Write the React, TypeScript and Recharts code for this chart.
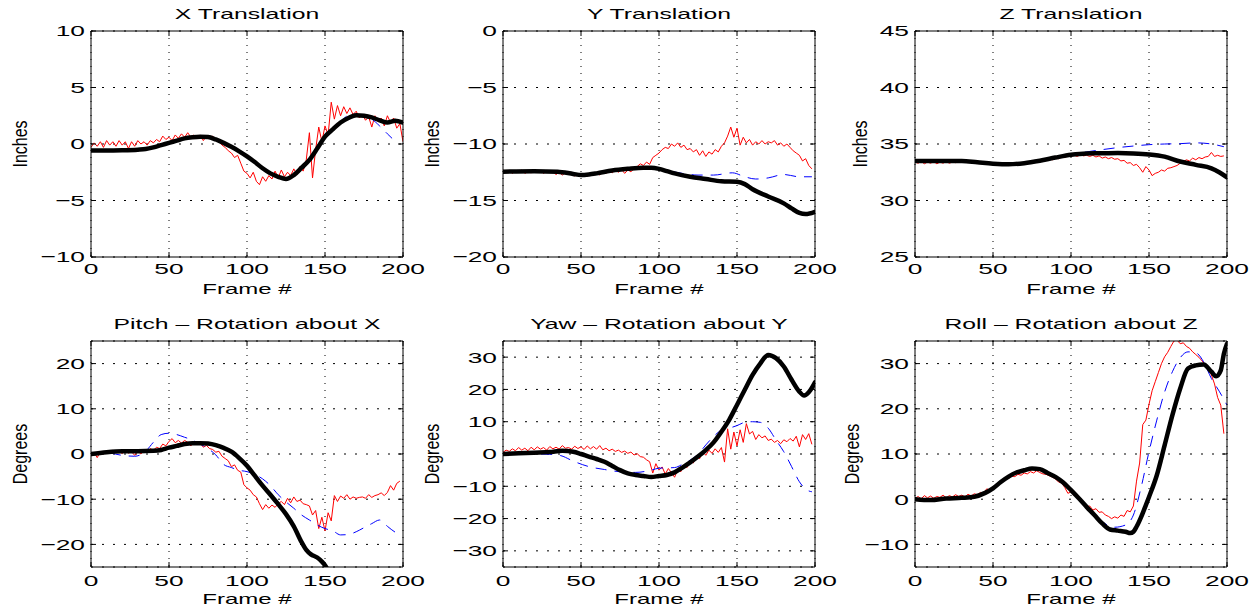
import { LineChart, Line, XAxis, YAxis, CartesianGrid } from "recharts"

type Pt = [number, number]

const FONT = "'Liberation Sans', Arial, Helvetica, sans-serif"
const frameTicks = [0, 50, 100, 150, 200]

// red = raw measurement, read every 2nd frame starting at frame 0
const xRed = [
  -0.3, 0.1, -0.2, 0.2, -0.3, 0.3, -0.1, 0.2, -0.2, 0.3,
  -0.1, 0.2, -0.4, 0.2, -0.2, 0.3, 0.0, 0.2, -0.1, 0.3,
  0.1, 0.4, 0.2, 0.7, 0.4, 0.6, 0.3, 0.8, 0.5, 0.9,
  0.6, 1.0, 0.6, 0.8, 0.5, 0.8, 0.3, 0.7, 0.5, 0.7,
  0.3, 0.2, -0.1, -0.3, -0.6, -0.8, -1.2, -1.0, -1.7, -2.4,
  -2.6, -3.0, -2.5, -3.3, -3.6, -2.9, -3.3, -2.8, -3.1, -2.4,
  -3.0, -2.3, -2.9, -2.5, -2.8, -2.2, -2.7, -2.0, -2.4, -1.4,
  1.0, -3.0, -0.5, 1.5, 0.2, 1.6, 0.8, 3.7, 2.2, 3.4,
  2.5, 3.3, 2.7, 3.2, 2.6, 2.9, 2.3, 2.6, 2.1, 2.4,
  1.5, 2.5, 2.0, 2.3, 1.6, 2.5, 1.9, 2.3, 1.4, 1.8, 0.2,
]
const xBlue: Pt[] = [
  [0, -0.58], [20, -0.55], [40, -0.3], [50, 0.1], [60, 0.5], [70, 0.65], [80, 0.4], [90, -0.25],
  [100, -1.1], [110, -2.15], [120, -2.9], [125, -3.1], [130, -2.75], [140, -1.4], [150, 0.65],
  [160, 2.0], [167, 2.65], [175, 2.5], [180, 2.2], [185, 1.6], [190, 0.9], [193, 0.5],
]
const xBlack: Pt[] = [
  [0, -0.58], [10, -0.57], [20, -0.55], [30, -0.5], [35, -0.45], [40, -0.3], [45, -0.1], [50, 0.1],
  [55, 0.3], [60, 0.5], [65, 0.6], [70, 0.65], [75, 0.62], [80, 0.4], [85, 0.1], [90, -0.25],
  [95, -0.65], [100, -1.1], [105, -1.6], [110, -2.15], [115, -2.6], [120, -2.9], [125, -3.1],
  [130, -2.75], [135, -2.1], [140, -1.4], [145, -0.4], [150, 0.65], [155, 1.3], [160, 1.9],
  [165, 2.3], [170, 2.55], [175, 2.5], [180, 2.35], [185, 2.1], [190, 1.9], [195, 2.05], [200, 1.9],
]

const yRed = [
  -12.3, -12.5, -12.35, -12.6, -12.4, -12.5, -12.3, -12.6, -12.45, -12.55,
  -12.4, -12.5, -12.35, -12.6, -12.4, -12.5, -12.45, -12.7, -12.5, -12.75,
  -12.55, -12.7, -12.5, -12.85, -12.6, -12.9, -12.7, -12.85, -12.6, -12.8,
  -12.5, -12.75, -12.4, -12.6, -12.35, -12.55, -12.3, -12.5, -12.25, -12.6,
  -12.3, -12.45, -12.2, -12.0, -11.75, -11.9, -11.6, -11.8, -11.2, -11.0,
  -10.8, -10.5, -10.3, -10.4, -10.0, -10.2, -9.9, -10.3, -10.1, -10.5,
  -10.4, -10.7, -10.5, -11.0, -10.6, -11.1, -10.7, -10.9, -10.5, -10.7,
  -10.2, -9.9, -9.3, -8.5, -9.4, -8.6, -10.1, -9.4, -9.9, -9.6,
  -10.1, -9.8, -10.0, -9.7, -10.0, -9.8, -9.9, -9.7, -10.1, -9.9,
  -10.2, -10.0, -10.3, -10.6, -10.8, -11.0, -11.5, -11.3, -11.9, -12.2,
]
const yBlue: Pt[] = [
  [0, -12.45], [35, -12.45], [50, -12.75], [60, -12.6], [80, -12.2], [95, -12.1], [105, -12.35],
  [115, -12.6], [125, -12.75], [135, -12.75], [147, -12.55], [155, -12.9], [162, -13.1],
  [170, -13.0], [180, -12.7], [190, -12.9], [198, -12.9],
]
const yBlack: Pt[] = [
  [0, -12.45], [20, -12.42], [35, -12.45], [45, -12.65], [50, -12.75], [55, -12.7], [60, -12.6],
  [70, -12.35], [80, -12.2], [90, -12.1], [95, -12.1], [100, -12.2], [105, -12.4], [110, -12.6],
  [120, -12.9], [130, -13.1], [140, -13.3], [150, -13.35], [155, -13.55], [160, -14.0],
  [170, -14.65], [180, -15.25], [185, -15.7], [190, -16.1], [194, -16.2], [200, -16.0],
]

const zRed = [
  33.4, 33.3, 33.45, 33.25, 33.4, 33.3, 33.45, 33.25, 33.4, 33.3,
  33.45, 33.3, 33.4, 33.35, 33.45, 33.4, 33.5, 33.4, 33.45, 33.35,
  33.4, 33.3, 33.35, 33.25, 33.3, 33.2, 33.25, 33.15, 33.25, 33.15,
  33.2, 33.25, 33.2, 33.3, 33.25, 33.35, 33.3, 33.4, 33.35, 33.5,
  33.45, 33.6, 33.55, 33.7, 33.6, 33.75, 33.7, 33.85, 33.8, 33.95,
  33.9, 34.0, 33.9, 34.05, 33.95, 34.0, 33.9, 34.0, 33.85, 33.95,
  33.75, 33.85, 33.7, 33.8, 33.65, 33.7, 33.5, 33.55, 33.3, 33.35,
  33.1, 33.2, 32.9, 32.5, 33.0, 32.7, 32.2, 32.4, 32.5, 32.7,
  32.6, 32.85, 32.9, 33.0, 33.1, 33.3, 33.45, 33.6, 33.5, 33.75,
  33.6, 33.8, 33.7, 33.85, 33.9, 34.25, 33.9, 34.0, 33.9, 33.95,
]
const zBlue: Pt[] = [
  [0, 33.5], [30, 33.5], [50, 33.26], [60, 33.2], [80, 33.52], [100, 34.05], [110, 34.3],
  [120, 34.5], [130, 34.68], [140, 34.82], [150, 34.94], [160, 35.0], [170, 35.03], [180, 35.1],
  [190, 35.0], [198, 34.76],
]
const zBlack: Pt[] = [
  [0, 33.5], [30, 33.5], [40, 33.38], [50, 33.26], [60, 33.2], [70, 33.3], [80, 33.52], [90, 33.8],
  [100, 34.05], [110, 34.17], [120, 34.18], [130, 34.2], [140, 34.17], [150, 34.08], [160, 33.88],
  [170, 33.45], [180, 33.15], [190, 32.85], [195, 32.5], [200, 32.05],
]

const pitchRed = [
  -0.5, 0.3, -0.8, 0.5, 0.0, 0.7, 0.2, 0.8, 0.3, 0.6,
  0.1, 0.7, 0.2, 0.5, -0.3, 0.6, 0.0, 0.9, 0.5, 1.2,
  0.8, 1.5, 1.2, 2.2, 1.8, 2.8, 3.4, 2.5, 3.0, 2.4,
  3.0, 2.6, 1.8, 2.5, 2.1, 2.4, 1.5, 1.9, 1.2, 1.0,
  0.4, 0.6, -0.5, -1.0, -1.5, -2.8, -2.4, -3.6, -4.0, -6.8,
  -7.5, -8.0, -9.0, -9.5, -11.0, -12.3, -11.2, -12.0, -11.3, -11.8,
  -11.0, -10.5, -11.2, -9.8, -10.8, -9.5, -10.5, -10.2, -11.0, -11.2,
  -11.5, -13.5, -12.5, -16.5, -14.0, -17.0, -13.0, -14.8, -9.2, -10.5,
  -9.3, -9.8, -9.0, -10.0, -9.5, -9.8, -9.6, -9.5, -9.8, -9.0,
  -9.6, -9.2, -9.0, -8.6, -9.2, -8.5, -7.0, -8.0, -6.5, -6.0,
]
const pitchBlue: Pt[] = [
  [0, 0], [10, 0.3], [20, -0.3], [28, -0.5], [35, 0.6], [40, 2.6], [45, 4.3], [50, 4.6], [55, 4.3],
  [60, 3.7], [65, 3.1], [70, 2.2], [75, 1.2], [80, -0.2], [85, -2.3], [90, -3.0], [95, -3.6],
  [100, -3.9], [105, -4.5], [110, -5.5], [115, -7.0], [120, -9.0], [125, -10.6], [130, -12.0],
  [135, -13.5], [140, -14.6], [145, -15.7], [150, -16.5], [155, -17.0], [160, -17.9], [165, -17.8],
  [170, -17.2], [175, -16.3], [180, -15.4], [185, -14.6], [190, -16.0], [195, -17.3], [198, -17.8],
]
const pitchBlack: Pt[] = [
  [0, 0], [10, 0.4], [20, 0.6], [30, 0.6], [40, 0.7], [45, 0.9], [50, 1.4], [55, 1.8], [60, 2.2],
  [65, 2.4], [70, 2.4], [75, 2.3], [80, 1.95], [85, 1.35], [90, 0.5], [95, -0.9], [100, -2.6],
  [105, -4.8], [110, -7.0], [115, -9.0], [120, -11.1], [125, -13.3], [130, -16.0], [135, -19.5],
  [138, -21.2], [141, -22.2], [145, -22.9], [148, -23.8], [150, -24.6], [153, -26.5],
]

const yawRed = [
  0.5, 1.2, 0.8, 1.6, 1.0, 2.0, 1.2, 1.8, 1.0, 2.1,
  1.3, 2.2, 1.5, 2.0, 1.2, 2.3, 1.6, 2.1, 1.5, 2.6,
  1.8, 2.0, 1.5, 2.4, 1.7, 2.2, 1.4, 2.5, 1.6, 2.3,
  1.5, 2.6, 1.3, 1.8, 1.0, 1.5, 0.8, 1.2, 0.5, 0.9,
  0.2, 0.6, -0.3, 0.1, -0.8, -1.0, -1.8, -2.4, -5.9, -3.0,
  -5.0, -4.0, -6.2, -4.5, -5.8, -7.2, -4.8, -5.5, -3.5, -4.2,
  -2.2, -2.8, -0.5, -1.5, 0.8, -0.4, 1.2, 0.2, 1.6, 0.5,
  2.0, -2.5, 7.8, 1.5, 6.8, 2.5, 7.5, 3.6, 9.4, 6.2,
  7.0, 4.5, 6.0, 5.0, 5.6, 4.2, 4.6, 3.6, 4.2, 3.2,
  4.4, 3.8, 4.8, 4.0, 5.5, 2.2, 6.0, 4.5, 6.3, 3.0,
]
const yawBlue: Pt[] = [
  [0, 0], [20, 0], [30, -0.1], [37, -0.5], [45, -2.2], [55, -3.9], [65, -4.8], [75, -5.5],
  [85, -5.7], [95, -5.0], [100, -4.4], [110, -4.2], [115, -3.2], [120, -1.9], [125, -0.1],
  [130, 2.8], [135, 5.4], [140, 7.4], [145, 8.0], [150, 8.8], [155, 9.8], [160, 10.0], [165, 9.8],
  [170, 8.0], [175, 4.3], [180, 0.7], [185, -3.9], [190, -8.6], [195, -11.2], [198, -11.7],
]
const yawBlack: Pt[] = [
  [0, 0], [10, 0.2], [20, 0.4], [30, 0.6], [38, 1.0], [45, 0.7], [50, 0.0], [55, -0.8], [60, -1.55],
  [65, -2.4], [70, -3.7], [75, -5.0], [80, -6.0], [85, -6.5], [90, -6.8], [95, -7.1], [100, -6.8],
  [105, -6.5], [110, -5.7], [115, -4.2], [120, -2.6], [125, -0.8], [130, 1.2], [135, 3.6],
  [140, 6.9], [145, 10.6], [150, 15.2], [155, 19.9], [160, 24.5], [165, 28.1], [170, 30.7],
  [175, 29.7], [180, 27.1], [185, 23.0], [190, 19.3], [193, 18.1], [196, 19.1], [200, 22.2],
]

const rollRed = [
  0.2, 0.6, 0.1, 0.8, 0.3, 0.7, 0.2, 0.6, 0.4, 0.9,
  0.3, 0.8, 0.5, 1.0, 0.6, 0.9, 0.5, 1.1, 0.7, 1.2,
  1.0, 1.5, 1.4, 2.3, 2.0, 2.4, 3.0, 3.4, 3.9, 4.5,
  4.6, 5.1, 5.0, 5.5, 5.3, 5.8, 5.6, 6.1, 5.8, 6.3,
  5.9, 5.6, 5.5, 5.2, 4.9, 4.5, 3.8, 3.6, 2.6, 1.3,
  1.6, 0.8, 1.0, -0.6, -1.1, -1.7, -1.5, -2.4, -2.1, -2.9,
  -2.8, -3.5, -3.8, -4.3, -3.9, -4.2, -3.5, -3.8, -2.5, -2.8,
  -1.5, 4.0, 8.0, 16.5, 17.5, 21.0, 24.0, 26.0, 28.0, 30.0,
  31.5, 32.5, 33.8, 35.0, 35.2, 34.4, 34.6, 33.8, 33.4, 32.6,
  32.0, 31.4, 30.6, 29.8, 28.8, 27.5, 25.5, 22.5, 20.8, 14.5,
]
const rollBlue: Pt[] = [
  [0, 0], [30, 0.3], [50, 2.4], [60, 5.0], [75, 6.8], [90, 4.95], [100, 2.0], [110, -1.7],
  [120, -5.0], [128, -6.2], [135, -5.7], [140, -3.5], [145, 2.7], [150, 10.5], [155, 17.5],
  [160, 23.7], [165, 28.2], [170, 31.3], [175, 32.6], [180, 32.4], [185, 30.4], [190, 26.7],
  [195, 23.9], [200, 20.8],
]
const rollBlack: Pt[] = [
  [0, 0], [10, -0.2], [20, 0.15], [30, 0.3], [38, 0.55], [45, 1.4], [50, 2.4], [55, 3.8], [60, 5.0],
  [65, 5.9], [70, 6.4], [75, 6.8], [80, 6.65], [85, 5.8], [90, 4.95], [95, 3.7], [100, 2.0],
  [105, 0.2], [110, -1.7], [115, -3.5], [120, -5.35], [125, -6.7], [130, -6.95], [135, -7.2],
  [138, -7.5], [140, -7.2], [142, -6.1], [145, -3.9], [148, -1.3], [150, 0.5], [155, 5.3],
  [160, 11.9], [165, 18.6], [170, 24.5], [175, 28.9], [180, 29.6], [185, 29.8], [190, 28.2],
  [193, 27.2], [196, 28.5], [198, 32.2], [200, 34.4],
]

const everyTwo = (vals: number[]) => vals.map((y, i) => ({ x: i * 2, y }))
const pairs = (p: Pt[]) => p.map(([x, y]) => ({ x, y }))
const fmt = (v: number) => (v < 0 ? "\u2212" + Math.abs(v) : String(v))

interface Spec {
  x0: number; x1: number; y0: number; y1: number
  title: string; ylabel: string; ylabelX: number; tickDy: number
  domain: [number, number]; ticks: number[]
  red: number[]; blue: Pt[]; black: Pt[]
}

const panels: Spec[] = [
  { x0: 91, x1: 403, y0: 31, y1: 257, title: "X Translation", ylabel: "Inches", ylabelX: 20, tickDy: 12,
    domain: [-10, 10], ticks: [-10, -5, 0, 5, 10], red: xRed, blue: xBlue, black: xBlack },
  { x0: 503, x1: 815, y0: 31, y1: 257, title: "Y Translation", ylabel: "Inches", ylabelX: 432, tickDy: 12,
    domain: [-20, 0], ticks: [-20, -15, -10, -5, 0], red: yRed, blue: yBlue, black: yBlack },
  { x0: 915, x1: 1227, y0: 31, y1: 257, title: "Z Translation", ylabel: "Inches", ylabelX: 860, tickDy: 12,
    domain: [25, 45], ticks: [25, 30, 35, 40, 45], red: zRed, blue: zBlue, black: zBlack },
  { x0: 91, x1: 403, y0: 341, y1: 567, title: "Pitch \u2013 Rotation about X", ylabel: "Degrees", ylabelX: 20, tickDy: 14,
    domain: [-25, 25], ticks: [-20, -10, 0, 10, 20], red: pitchRed, blue: pitchBlue, black: pitchBlack },
  { x0: 503, x1: 815, y0: 341, y1: 567, title: "Yaw \u2013 Rotation about Y", ylabel: "Degrees", ylabelX: 432, tickDy: 14,
    domain: [-35, 35], ticks: [-30, -20, -10, 0, 10, 20, 30], red: yawRed, blue: yawBlue, black: yawBlack },
  { x0: 915, x1: 1227, y0: 341, y1: 567, title: "Roll \u2013 Rotation about Z", ylabel: "Degrees", ylabelX: 852, tickDy: 14,
    domain: [-15, 35], ticks: [-10, 0, 10, 20, 30], red: rollRed, blue: rollBlue, black: rollBlack },
]

const ML = 70
const MT = 10
const MR = 32
const noTick = () => <g />

function Panel({ p }: { p: Spec }) {
  const w = p.x1 - p.x0
  const h = p.y1 - p.y0
  const xTick = (props: any) => (
    <text transform={`translate(${props.x},${MT + h + p.tickDy}) scale(1.7,1)`} textAnchor="middle" dy="0.35em"
      fontFamily={FONT} fontSize={15.5} fill="#000">{fmt(props.payload.value)}</text>
  )
  const yTick = (props: any) => (
    <text transform={`translate(${ML - 6},${props.y}) scale(1.7,1)`} textAnchor="end" dy="0.35em"
      fontFamily={FONT} fontSize={15.5} fill="#000">{fmt(props.payload.value)}</text>
  )
  return (
    <div style={{ position: "absolute", left: p.x0 - ML, top: p.y0 - MT }}>
      <LineChart width={w + ML + MR} height={h + MT + 30} margin={{ top: MT, right: MR, bottom: 30, left: ML }}>
        <CartesianGrid horizontal={false} stroke="#000" strokeDasharray="1 6" />
        <CartesianGrid vertical={false} stroke="#000" strokeDasharray="2 9" />
        <XAxis type="number" dataKey="x" domain={[0, 200]} ticks={frameTicks} allowDataOverflow mirror
          tickSize={5} stroke="#000" tick={xTick} />
        <XAxis xAxisId="t" orientation="top" type="number" dataKey="x" domain={[0, 200]} ticks={frameTicks}
          allowDataOverflow mirror tickSize={5} stroke="#000" tick={noTick} />
        <YAxis type="number" domain={p.domain} ticks={p.ticks} allowDataOverflow mirror
          tickSize={5} stroke="#000" tick={yTick} />
        <YAxis yAxisId="r" orientation="right" type="number" domain={p.domain} ticks={p.ticks}
          allowDataOverflow mirror tickSize={5} stroke="#000" tick={noTick} />
        <Line data={everyTwo(p.red)} dataKey="y" type="linear" stroke="#ff0000" strokeWidth={1}
          dot={false} isAnimationActive={false} />
        <Line data={pairs(p.blue)} dataKey="y" type="monotone" stroke="#0000ff" strokeWidth={1}
          strokeDasharray="11 8" dot={false} isAnimationActive={false} />
        <Line data={pairs(p.black)} dataKey="y" type="monotone" stroke="#000" strokeWidth={4.5}
          strokeLinecap="round" strokeLinejoin="round" dot={false} isAnimationActive={false} />
      </LineChart>
    </div>
  )
}

export default function App() {
  return (
    <div style={{ position: "absolute", left: 0, top: 0, width: 1260, height: 609, background: "#fff", overflow: "hidden" }}>
      {panels.map((p) => <Panel key={p.title} p={p} />)}
      <svg width={1260} height={609} style={{ position: "absolute", left: 0, top: 0, pointerEvents: "none" }}>
        {panels.map((p) => {
          const cx = (p.x0 + p.x1) / 2
          const cy = (p.y0 + p.y1) / 2
          return (
            <g key={p.title} fontFamily={FONT} fill="#000" textAnchor="middle">
              <text transform={`translate(${cx},${p.y0 - 17.5}) scale(1.65,1)`} dy="0.35em" fontSize={15}>{p.title}</text>
              <text transform={`translate(${cx},${p.y1 + 31.5}) scale(1.6,1)`} dy="0.35em" fontSize={15}>Frame #</text>
              <text transform={`translate(${p.ylabelX},${cy}) rotate(-90) scale(1,1.25)`} dy="0.35em" fontSize={16}>{p.ylabel}</text>
            </g>
          )
        })}
      </svg>
    </div>
  )
}
